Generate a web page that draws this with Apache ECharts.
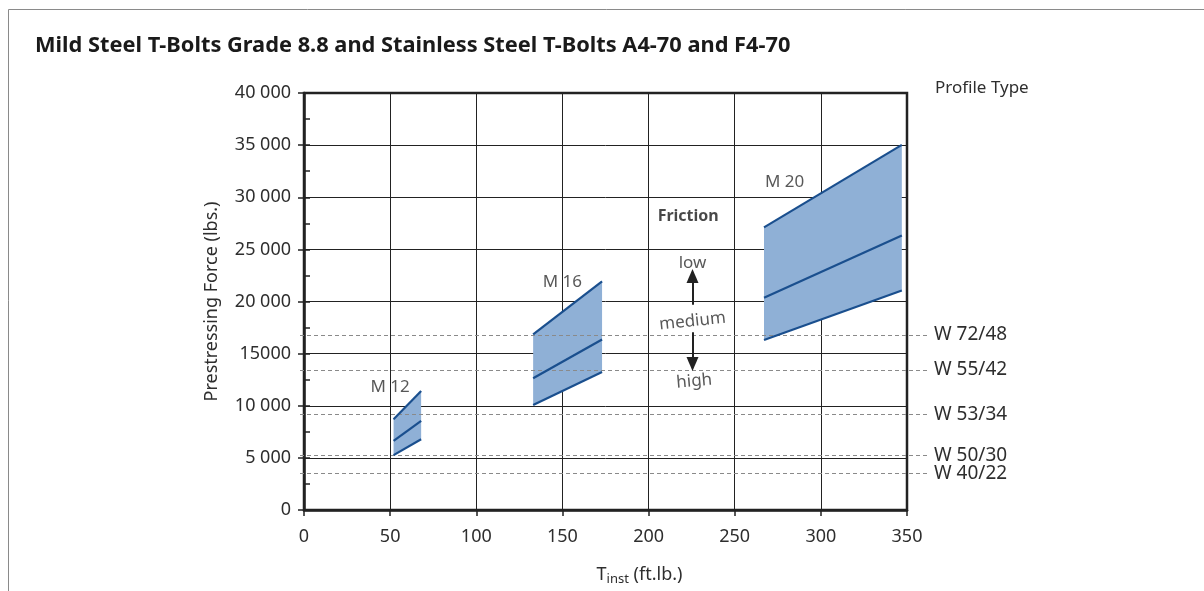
<!DOCTYPE html>
<html>
<head>
<meta charset="utf-8">
<script src="https://cdn.jsdelivr.net/npm/echarts@6/dist/echarts.min.js"></script>
<style>
html,body{margin:0;padding:0;background:#fff;}
#chart{width:1204px;height:591px;}
</style>
</head>
<body>
<div id="chart"></div>
<script>
// ---- data ----
const titleText = 'Mild Steel T-Bolts Grade 8.8 and Stainless Steel T-Bolts A4-70 and F4-70';
const yTickLabels = ['0','5 000','10 000','15000','20 000','25 000','30 000','35 000','40 000'];
const xTicks = [0, 50, 100, 150, 200, 250, 300, 350];

const bolts = ['M 12', 'M 16', 'M 20'];
const xStart = [52, 133, 267];
const xEnd = [68, 173, 347];
const lowerStart = [5260, 10080, 16300];
const lowerEnd = [6790, 13230, 21050];
const middleStart = [6630, 12630, 20350];
const middleEnd = [8550, 16360, 26320];
const upperStart = [8710, 16840, 27110];
const upperEnd = [11420, 21940, 35020];
const boltLabelX = [50, 150, 279];
const boltLabelY = [11770, 21900, 31400];

const profiles = ['W 72/48', 'W 55/42', 'W 53/34', 'W 50/30', 'W 40/22'];
const profileForce = [16850, 13500, 9250, 5300, 3600];

const frictionTexts = ['Friction', 'low', 'medium', 'high'];
const frictionX = [223, 225.5, 225.5, 226.5];
const frictionY = [28130, 23700, 18100, 12350];
const frictionRotate = [0, 0, 6, 5];
const arrowUp = [[225.5, 19700], [225.5, 22450]];
const arrowDown = [[225.5, 17050], [225.5, 14000]];

// ---- chart ----
const FONT = 'Noto Sans';
const TXT = '#2e2e2e';
const AX = '#222';
const chart = echarts.init(document.getElementById('chart'));

const bandData = bolts.map((b, i) => [xStart[i], xEnd[i], lowerStart[i], lowerEnd[i], upperStart[i], upperEnd[i]]);
function lineSeries(starts, ends, name) {
  return bolts.map((b, i) => ({
    type: 'line', name: name + ' ' + b, xAxisIndex: 0, yAxisIndex: 0,
    data: [[xStart[i], starts[i]], [xEnd[i], ends[i]]],
    symbol: 'none', lineStyle: {color: '#1a4f8e', width: 2.2}, z: 5, silent: true
  }));
}

const option = {
  animation: false,
  textStyle: {fontFamily: FONT},
  title: {
    text: titleText, left: 30, top: 30,
    textStyle: {fontFamily: FONT, fontWeight: 'bold', fontSize: 21.8, color: '#1a1a1a'}
  },
  graphic: [
    {type: 'polyline', shape: {points: [[8.5, 591], [8.5, 9.5], [1204, 9.5]]}, style: {stroke: '#8a8a8a', lineWidth: 1, fill: null}},
    {type: 'text', left: 935, top: 80, style: {text: 'Profile Type', fontFamily: FONT, fontSize: 17, fill: TXT}}
  ],
  grid: [
    {left: 304, right: 297, top: 93, bottom: 80, show: true, borderColor: AX, borderWidth: 2.5, backgroundColor: 'transparent'},
    {left: 300, right: 276, top: 93, bottom: 80, show: false}
  ],
  xAxis: [
    {
      type: 'value', gridIndex: 0, min: 0, max: 350, interval: 50,
      name: '{a|T}{b|inst}{a| (ft.lb.)}', nameLocation: 'middle', nameGap: 54,
      nameTextStyle: {padding: [0, 0, 0, 68], rich: {a: {fontFamily: FONT, fontSize: 18, color: TXT}, b: {fontFamily: FONT, fontSize: 13, color: TXT, padding: [9, 0, 0, 0]}}},
      axisLine: {show: true, onZero: false, lineStyle: {color: AX, width: 2.5}},
      axisTick: {show: true, length: 6, lineStyle: {color: AX, width: 1.5}},
      axisLabel: {fontSize: 18, color: TXT, margin: 18, formatter: v => String(xTicks[Math.round(v / 50)])},
      splitLine: {show: true, lineStyle: {color: AX, width: 1}}
    },
    {type: 'value', gridIndex: 1, min: 0, max: 1, show: false}
  ],
  yAxis: [
    {
      type: 'value', gridIndex: 0, min: 0, max: 40000, interval: 5000,
      name: 'Prestressing Force (lbs.)', nameLocation: 'middle', nameGap: 83,
      nameTextStyle: {fontFamily: FONT, fontSize: 18, color: TXT},
      axisLine: {show: true, onZero: false, lineStyle: {color: AX, width: 2.5}},
      axisTick: {show: true, length: 6, lineStyle: {color: AX, width: 1.5}},
      axisLabel: {fontSize: 18, color: TXT, margin: 13, formatter: v => yTickLabels[Math.round(v / 5000)]},
      splitLine: {show: true, lineStyle: {color: AX, width: 1}}
    },
    {
      type: 'value', gridIndex: 0, min: 0, max: 40000, interval: 2500, position: 'left',
      axisLine: {show: false}, axisLabel: {show: false}, splitLine: {show: false},
      axisTick: {show: true, inside: true, length: 6, lineStyle: {color: AX, width: 1.5}}
    },
    {type: 'value', gridIndex: 1, min: 0, max: 40000, show: false}
  ],
  series: [
    {
      type: 'line', name: 'profiles', xAxisIndex: 1, yAxisIndex: 2, data: [], z: 1, silent: true,
      markLine: {
        symbol: 'none', silent: true,
        lineStyle: {type: [4, 3], color: '#8a8a8a', width: 1},
        label: {show: true, position: 'end', distance: 6, formatter: '{b}', fontFamily: FONT, fontSize: 19, color: TXT},
        data: profiles.map((p, i) => ({name: p, yAxis: profileForce[i]}))
      }
    },
    {
      type: 'custom', name: 'bands', xAxisIndex: 0, yAxisIndex: 0, z: 3, silent: true,
      data: bandData,
      renderItem: function (params, api) {
        const pts = [
          api.coord([api.value(0), api.value(2)]),
          api.coord([api.value(1), api.value(3)]),
          api.coord([api.value(1), api.value(5)]),
          api.coord([api.value(0), api.value(4)])
        ];
        return {type: 'polygon', shape: {points: pts}, style: {fill: '#8fb0d6'}};
      }
    },
    ...lineSeries(lowerStart, lowerEnd, 'lower'),
    ...lineSeries(middleStart, middleEnd, 'middle'),
    ...lineSeries(upperStart, upperEnd, 'upper'),
    {
      type: 'scatter', name: 'boltLabels', xAxisIndex: 0, yAxisIndex: 0, symbolSize: 0, z: 6, silent: true,
      data: bolts.map((b, i) => ({name: b, value: [boltLabelX[i], boltLabelY[i]]})),
      label: {show: true, position: 'inside', formatter: '{b}', fontFamily: FONT, fontSize: 17, color: TXT}
    },
    {
      type: 'scatter', name: 'friction', xAxisIndex: 0, yAxisIndex: 0, symbolSize: 0, z: 6, silent: true,
      data: frictionTexts.map((t, i) => ({
        name: t, value: [frictionX[i], frictionY[i]],
        label: {rotate: frictionRotate[i], fontWeight: i === 0 ? 'bold' : 'normal', color: i === 0 ? '#1a1a1a' : TXT, fontSize: i === 0 ? 16 : 17}
      })),
      label: {show: true, position: 'inside', formatter: '{b}', fontFamily: FONT, fontSize: 17, color: TXT}
    },
    {
      type: 'line', name: 'arrows', xAxisIndex: 0, yAxisIndex: 0, data: [], z: 6, silent: true,
      markLine: {
        silent: true, symbol: ['none', 'triangle'], symbolSize: [12, 14],
        lineStyle: {type: 'solid', color: AX, width: 2}, label: {show: false},
        data: [
          [{coord: arrowUp[0]}, {coord: arrowUp[1]}],
          [{coord: arrowDown[0]}, {coord: arrowDown[1]}]
        ]
      }
    }
  ]
};
chart.setOption(option);
</script>
</body>
</html>
